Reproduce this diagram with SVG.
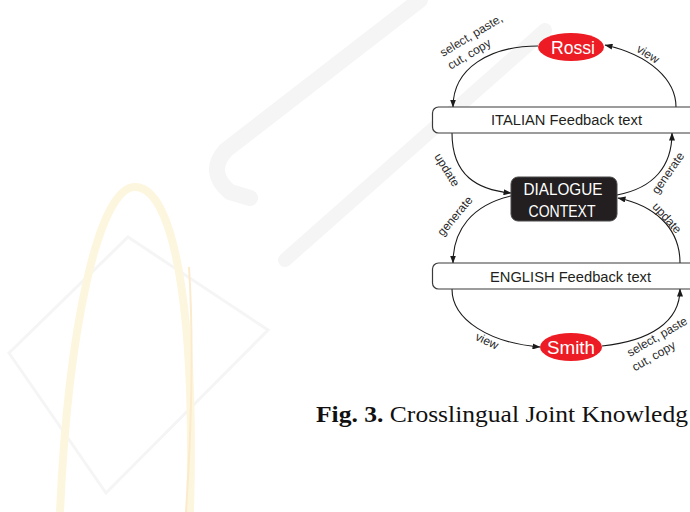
<svg xmlns="http://www.w3.org/2000/svg" width="690" height="512" viewBox="0 0 690 512">
  <defs>
    <marker id="arrow" markerWidth="8" markerHeight="6" refX="7.5" refY="3" orient="auto" markerUnits="userSpaceOnUse">
      <path d="M0,0 L8,3 L0,6 z" fill="#1a1a1a"/>
    </marker>
    <style>
      .wm { fill: none; stroke: #f5f5f5; stroke-linecap: round; stroke-linejoin: round; }
      .box { fill: #ffffff; stroke: #3a3a3a; stroke-width: 1.2; }
      .ctx { fill: #231f20; stroke: #4a4a4a; stroke-width: 1; }
      .user { fill: #ed1c24; }
      .edge { fill: none; stroke: #1a1a1a; stroke-width: 1.1; marker-end: url(#arrow); }
      .t { font-family: "Liberation Sans", Arial, sans-serif; fill: #231f20; }
      .w { font-family: "Liberation Sans", Arial, sans-serif; fill: #ffffff; }
      .lbl { font-family: "Liberation Sans", Arial, sans-serif; font-size: 12px; fill: #2a2a2a; }
      .cap { font-family: "Liberation Serif", "Times New Roman", serif; font-size: 23px; fill: #111111; }
    </style>
  </defs>

  <rect width="690" height="512" fill="#ffffff"/>

  <!-- faint background logo -->
  <g id="watermark">
    <path class="wm" stroke-width="16" d="M420,0 L226,150 Q206,172 230,192 L250,198"/>
    <path class="wm" stroke-width="14" d="M285,260 L545,30"/>
    <path d="M9,353 L128,237 L268,330 L106,493 Z" fill="none" stroke="#f5f5f5" stroke-width="3"/>
    <path d="M60,512 C68,330 98,190 134,187 C172,185 196,300 190,512" fill="none" stroke="#fdf6de" stroke-width="8"/>
    <path d="M189,267 C193,330 192,420 186,512" fill="none" stroke="#fbebcc" stroke-width="2"/>
  </g>

  <!-- connectors -->
  <g id="connectors">
    <path class="edge" d="M538,46 C490,46 453,68 453,107"/>
    <path class="edge" d="M676,107 C676,80 650,55 605,45"/>
    <path class="edge" d="M452,133 C452,176 478,190 511,193"/>
    <path class="edge" d="M511,196 C472,205 453,230 453,263"/>
    <path class="edge" d="M617,195 C654,188 672,166 672,133"/>
    <path class="edge" d="M680,263 C680,226 652,205 618,198"/>
    <path class="edge" d="M452,289 C452,320 490,343 540,347"/>
    <path class="edge" d="M602,346 C650,341 680,322 680,289"/>

    <g class="lbl">
      <g transform="translate(443,57) rotate(-31)">
        <text x="0" y="0">select, paste,</text>
        <text x="0" y="15">cut, copy</text>
      </g>
      <text transform="translate(648,54) rotate(32)" text-anchor="middle" y="4">view</text>
      <text transform="translate(447,170) rotate(58)" text-anchor="middle" y="4">update</text>
      <text transform="translate(455,216) rotate(-50)" text-anchor="middle" y="4">generate</text>
      <text transform="translate(668,173) rotate(-55)" text-anchor="middle" y="4">generate</text>
      <text transform="translate(667,218) rotate(48)" text-anchor="middle" y="4">update</text>
      <text transform="translate(487,341) rotate(25)" text-anchor="middle" y="4">view</text>
      <g transform="translate(630,357) rotate(-30)">
        <text x="0" y="0">select, paste</text>
        <text x="-3" y="15">cut, copy</text>
      </g>
    </g>
  </g>

  <g id="rossi">
    <ellipse class="user" cx="571" cy="47" rx="33" ry="14"/>
    <text class="w" x="573" y="54" font-size="18" text-anchor="middle" textLength="44" lengthAdjust="spacingAndGlyphs">Rossi</text>
  </g>

  <g id="italian-text">
    <rect class="box" x="432.5" y="107" width="275" height="26" rx="6"/>
    <text class="t" x="566.5" y="125" font-size="14" text-anchor="middle" textLength="151" lengthAdjust="spacingAndGlyphs">ITALIAN Feedback text</text>
  </g>

  <g id="dialogue-context">
    <rect class="ctx" x="511" y="177" width="106" height="44" rx="7"/>
    <text class="w" x="563" y="195" font-size="17" text-anchor="middle" textLength="79" lengthAdjust="spacingAndGlyphs">DIALOGUE</text>
    <text class="w" x="562" y="217" font-size="17" text-anchor="middle" textLength="67" lengthAdjust="spacingAndGlyphs">CONTEXT</text>
  </g>

  <g id="english-text">
    <rect class="box" x="432.5" y="263" width="275" height="26" rx="6"/>
    <text class="t" x="570.5" y="282" font-size="14.5" text-anchor="middle" textLength="161" lengthAdjust="spacingAndGlyphs">ENGLISH Feedback text</text>
  </g>

  <g id="smith">
    <ellipse class="user" cx="571" cy="347" rx="31" ry="14"/>
    <text class="w" x="571" y="354" font-size="18" text-anchor="middle" textLength="48" lengthAdjust="spacingAndGlyphs">Smith</text>
  </g>

  <text class="cap" x="316" y="422" textLength="372" lengthAdjust="spacingAndGlyphs"><tspan font-weight="bold">Fig. 3.</tspan> Crosslingual Joint Knowledg</text>
</svg>
